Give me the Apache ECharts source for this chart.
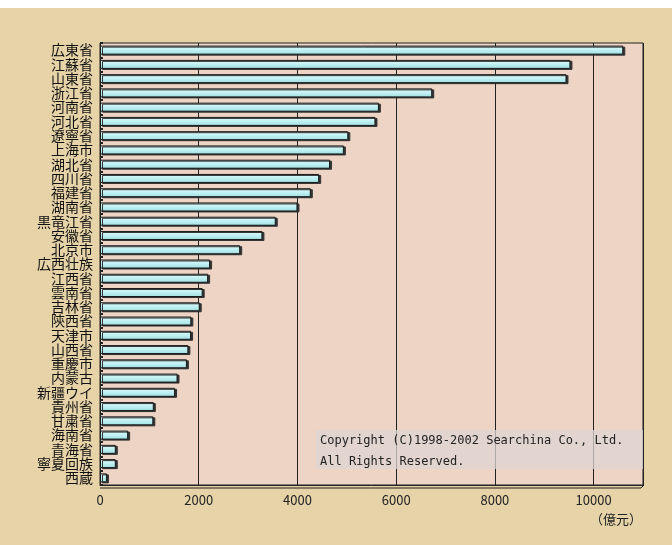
<!DOCTYPE html>
<html>
<head>
<meta charset="utf-8">
<script src="https://cdn.jsdelivr.net/npm/echarts@6/dist/echarts.min.js"></script>
<style>
  html, body { margin: 0; padding: 0; background: #fff; }
  #chart { width: 672px; height: 545px; }
</style>
</head>
<body>
<div id="chart"></div>
<script>
// 省別 GDP（億元）
var provinces = ['広東省', '江蘇省', '山東省', '浙江省', '河南省', '河北省', '遼寧省', '上海市',
    '湖北省', '四川省', '福建省', '湖南省', '黒竜江省', '安徽省', '北京市', '広西壮族',
    '江西省', '雲南省', '吉林省', '陝西省', '天津市', '山西省', '重慶市', '内蒙古',
    '新疆ウイ', '貴州省', '甘粛省', '海南省', '青海省', '寧夏回族', '西蔵'];
var gdp = [10600, 9530, 9450, 6730, 5650, 5580, 5030, 4940,
    4660, 4440, 4270, 4000, 3560, 3290, 2840, 2230,
    2190, 2080, 2020, 1850, 1845, 1790, 1760, 1570,
    1520, 1090, 1080, 570, 320, 320, 140];
var xTicks = [0, 2000, 4000, 6000, 8000, 10000];

var font = '"Noto Sans CJK JP", "Noto Sans", sans-serif';
var monoFont = '"DejaVu Sans Mono", "Liberation Mono", monospace';

var myChart = echarts.init(document.getElementById('chart'));
var option = {
    backgroundColor: '#e7d3a8',
    animation: false,
    grid: {
        left: 100,
        right: 29,
        top: 43,
        bottom: 60,
        show: true,
        backgroundColor: '#edd4c4',
        borderColor: '#222',
        borderWidth: 1
    },
    xAxis: {
        type: 'value',
        min: 0,
        max: 11000,
        interval: 2000,
        axisLine: { show: true, lineStyle: { color: '#222', width: 1 } },
        axisTick: { show: true, length: 4, inside: true, lineStyle: { color: '#222' } },
        splitLine: { show: true, lineStyle: { color: '#222', width: 1 } },
        axisLabel: {
            color: '#222',
            fontSize: 13,
            fontFamily: font,
            margin: 9,
            showMaxLabel: false,
            formatter: function (v) {
                return xTicks.indexOf(v) >= 0 ? String(v) : '';
            }
        }
    },
    yAxis: {
        type: 'category',
        inverse: true,
        data: provinces,
        axisLine: { show: true, lineStyle: { color: '#222', width: 1 } },
        axisTick: { show: true, length: 3, inside: true, lineStyle: { color: '#222', width: 2 } },
        axisLabel: {
            color: '#111',
            fontSize: 14,
            fontFamily: font,
            margin: 7,
            interval: 0
        }
    },
    series: [
        {
            name: 'GDP',
            type: 'bar',
            data: gdp,
            barWidth: 9,
            itemStyle: {
                color: {
                    type: 'linear', x: 0, y: 0, x2: 0, y2: 1,
                    colorStops: [
                        { offset: 0, color: '#e2fbfb' },
                        { offset: 0.5, color: '#bff1f3' },
                        { offset: 1, color: '#9fdde1' }
                    ]
                },
                borderColor: '#1a1a1a',
                borderWidth: 1,
                shadowColor: '#333',
                shadowBlur: 0,
                shadowOffsetX: 2,
                shadowOffsetY: 1
            }
        }
    ],
    graphic: [
        // 上の白い帯
        { type: 'rect', left: 0, top: 0, shape: { width: 672, height: 8 }, style: { fill: '#fff' }, z: 100 },
        // 下軸の奥行き線
        {
            type: 'polyline', z: 100,
            shape: { points: [[100, 488], [641, 488], [644, 485]] },
            style: { stroke: '#222', lineWidth: 1, fill: null }
        },
        // 著作権表示
        {
            type: 'rect', left: 316, top: 430,
            shape: { width: 327, height: 39 },
            style: { fill: 'rgba(222,214,212,0.75)' }, z: 100
        },
        {
            type: 'text', left: 320, top: 435, z: 101,
            style: { text: 'Copyright (C)1998-2002 Searchina Co., Ltd.', fill: '#222', font: '12px ' + monoFont }
        },
        {
            type: 'text', left: 320, top: 456, z: 101,
            style: { text: 'All Rights Reserved.', fill: '#222', font: '12px ' + monoFont }
        },
        // 単位
        {
            type: 'text', right: 30, top: 513, z: 101,
            style: { text: '（億元）', fill: '#222', font: '13px ' + font }
        }
    ]
};
myChart.setOption(option);
</script>
</body>
</html>
